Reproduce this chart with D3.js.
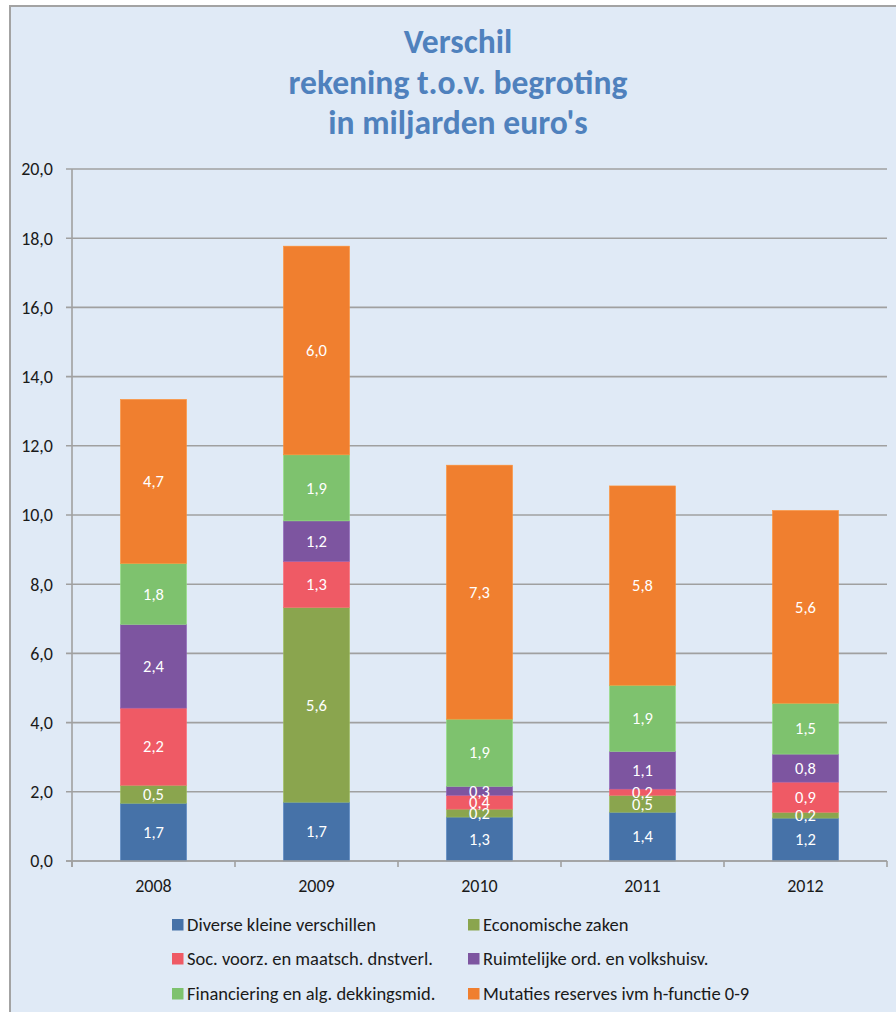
<!DOCTYPE html>
<html>
<head>
<meta charset="utf-8">
<script src="https://cdn.jsdelivr.net/npm/d3@7"></script>
<style>
  html, body { margin: 0; padding: 0; background: #ffffff; }
  svg { display: block; }
  text { font-family: Carlito, Calibri, Lato, "Open Sans", sans-serif; }
</style>
</head>
<body>
<svg id="chart" width="896" height="1012"></svg>
<script>
// ---- data ----
const years = ["2008", "2009", "2010", "2011", "2012"];
const seriesNames = [
  "Diverse kleine verschillen",
  "Economische zaken",
  "Soc. voorz. en maatsch.  dnstverl.",
  "Ruimtelijke ord. en volkshuisv.",
  "Financiering en alg. dekkingsmid.",
  "Mutaties reserves ivm h-functie 0-9"
];
const diverse      = [1.67, 1.70, 1.27, 1.41, 1.24];
const economisch   = [0.52, 5.63, 0.23, 0.49, 0.17];
const sociaal      = [2.23, 1.33, 0.40, 0.18, 0.87];
const ruimtelijk   = [2.42, 1.17, 0.26, 1.09, 0.81];
const financiering = [1.76, 1.91, 1.94, 1.91, 1.47];
const mutaties     = [4.74, 6.03, 7.34, 5.76, 5.57];
const yTicks = [0, 2, 4, 6, 8, 10, 12, 14, 16, 18, 20];
const titleLines = ["Verschil", "rekening t.o.v. begroting", "in miljarden euro's"];

const seriesValues = [diverse, economisch, sociaal, ruimtelijk, financiering, mutaties];
const colors = ["#4672a8", "#8aa54e", "#ef5a65", "#7d55a0", "#7ec26e", "#f07f2f"];

// ---- layout ----
const svg = d3.select("#chart");
const plot = { left: 72, right: 887, top: 169, bottom: 861 };

svg.append("rect").attr("x", 0).attr("y", 0).attr("width", 896).attr("height", 1012).attr("fill", "#ffffff");
svg.append("rect").attr("x", 10).attr("y", 6).attr("width", 900).attr("height", 1020)
  .attr("fill", "#e0eaf6").attr("stroke", "#a3a3a3").attr("stroke-width", 2);

const x = d3.scaleBand().domain(years).range([plot.left, plot.right]).padding(0);
const y = d3.scaleLinear().domain([0, 20]).range([plot.bottom, plot.top]);
const barFrac = 0.405;
const barW = x.bandwidth() * barFrac;

// gridlines + y ticks
const grid = svg.append("g");
grid.selectAll("line").data(yTicks).join("line")
  .attr("x1", plot.left - 6).attr("x2", plot.right)
  .attr("y1", d => y(d)).attr("y2", d => y(d))
  .attr("stroke", "#a0a0a0").attr("stroke-width", 1.6);

// y axis labels
svg.append("g").selectAll("text").data(yTicks).join("text")
  .attr("x", 53).attr("y", d => y(d)).attr("dy", "0.35em")
  .attr("text-anchor", "end").attr("font-size", 18).attr("fill", "#1a1a1a")
  .text(d => d.toFixed(1).replace(".", ","));

// stacked bars
const rows = years.map((yr, i) => {
  const r = { year: yr };
  seriesNames.forEach((s, k) => r[s] = seriesValues[k][i]);
  return r;
});
const stack = d3.stack().keys(seriesNames)(rows);

const barsG = svg.append("g");
stack.forEach((layer, k) => {
  const g = barsG.append("g");
  g.selectAll("rect").data(layer).join("rect")
    .attr("x", d => x(d.data.year) + (x.bandwidth() - barW) / 2)
    .attr("width", barW)
    .attr("y", d => y(d[1]))
    .attr("height", d => y(d[0]) - y(d[1]))
    .attr("fill", colors[k])
    .attr("stroke", d3.color(colors[k]).brighter(0.4))
    .attr("stroke-width", 0.6);
});
stack.forEach((layer, k) => {
  barsG.append("g").selectAll("text").data(layer).join("text")
    .attr("x", d => x(d.data.year) + x.bandwidth() / 2)
    .attr("y", d => (y(d[0]) + y(d[1])) / 2)
    .attr("dy", "0.35em")
    .attr("text-anchor", "middle").attr("font-size", 16.5).attr("fill", "#ffffff")
    .text(d => (d[1] - d[0]).toFixed(1).replace(".", ","));
});

// axes lines
svg.append("line").attr("x1", plot.left).attr("x2", plot.left)
  .attr("y1", plot.top).attr("y2", plot.bottom + 6)
  .attr("stroke", "#a0a0a0").attr("stroke-width", 1.6);
svg.append("line").attr("x1", plot.left - 6).attr("x2", plot.right)
  .attr("y1", plot.bottom).attr("y2", plot.bottom)
  .attr("stroke", "#a0a0a0").attr("stroke-width", 1.6);
const bounds = years.map(d => x(d)).concat([x(years[years.length - 1]) + x.bandwidth()]);
svg.append("g").selectAll("line").data(bounds).join("line")
  .attr("x1", d => d).attr("x2", d => d)
  .attr("y1", plot.bottom).attr("y2", plot.bottom + 6)
  .attr("stroke", "#a0a0a0").attr("stroke-width", 1.6);

// x labels
svg.append("g").selectAll("text").data(years).join("text")
  .attr("x", d => x(d) + x.bandwidth() / 2).attr("y", 892)
  .attr("text-anchor", "middle").attr("font-size", 18).attr("fill", "#1a1a1a")
  .text(d => d);

// title
const title = svg.append("g");
const baselines = [53, 94, 134];
title.selectAll("text").data(titleLines).join("text")
  .attr("x", 458).attr("y", (d, i) => baselines[i])
  .attr("text-anchor", "middle").attr("font-size", 30).attr("font-weight", "bold")
  .attr("fill", "#4f81bd")
  .text(d => d);
// fit width of middle line to ~339px
const mid = title.selectAll("text").nodes()[1];
const w = mid.getComputedTextLength();
const fs = Math.max(24, Math.min(34, 30 * 339 / w));
title.selectAll("text").attr("font-size", fs);

// legend
const legPos = [
  [172, 925], [468, 925],
  [172, 959], [468, 959],
  [172, 994], [468, 994]
];
const leg = svg.append("g");
seriesNames.forEach((s, k) => {
  const [lx, ly] = legPos[k];
  leg.append("rect").attr("x", lx).attr("y", ly - 6).attr("width", 11.5).attr("height", 11.5)
    .attr("fill", colors[k]);
  leg.append("text").attr("x", lx + 15).attr("y", ly).attr("dy", "0.35em")
    .attr("font-size", 18.5).attr("fill", "#1a1a1a").text(s);
});
</script>
</body>
</html>
